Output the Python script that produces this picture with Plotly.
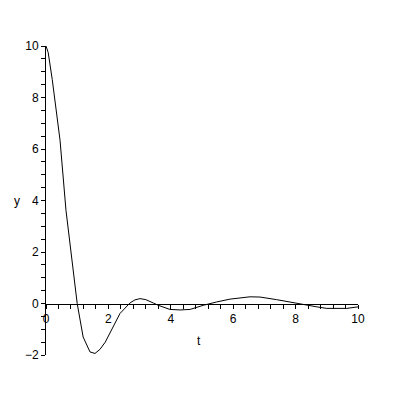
import plotly.graph_objects as go

t_vals = [0, 0.07, 0.2, 0.45, 0.64, 0.8, 1.0, 1.19, 1.41, 1.57, 1.73, 1.9, 2.15, 2.37,
          2.69, 2.85, 3.01, 3.2, 3.44, 3.6, 3.97, 4.3, 4.62, 5.04, 5.47, 5.9, 6.54,
          6.86, 7.39, 7.87, 8.14, 8.68, 9.0, 9.64, 10.0]
y_vals = [10, 9.75, 8.7, 6.34, 3.62, 2.0, 0.0, -1.30, -1.88, -1.94, -1.78, -1.5, -0.91, -0.39,
          0.02, 0.14, 0.19, 0.15, 0.02, -0.07, -0.23, -0.25, -0.23, -0.07, 0.06, 0.17, 0.26,
          0.25, 0.15, 0.04, -0.03, -0.13, -0.19, -0.19, -0.13]

x_range = [0, 10]
y_range = [-2, 10]
x_label = "t"
y_label = "y"

fig = go.Figure()
fig.add_trace(go.Scatter(x=t_vals, y=y_vals, mode="lines",
                         line=dict(color="black", width=1), showlegend=False,
                         hoverinfo="skip"))

font = dict(family="Liberation Sans, Arial, sans-serif", size=12, color="black")
zero_pos = (0 - y_range[0]) / (y_range[1] - y_range[0])

# page body has an 8px margin; plot area should span page px 46..358 x 46..355
ML, MT = 38, 38
PW, PH = 312, 309
MR = 400 - ML - PW
MB = 400 - MT - PH

fig.update_layout(
    width=400, height=400,
    margin=dict(l=ML, r=MR, t=MT, b=MB),
    paper_bgcolor="white", plot_bgcolor="white",
    font=font,
    xaxis=dict(range=x_range, anchor="free", position=zero_pos,
               showgrid=False, zeroline=False, showline=True, linecolor="black",
               linewidth=1, ticks="outside", ticklen=4, tickcolor="black",
               tick0=0, dtick=2, tickfont=font,
               minor=dict(dtick=0.4, ticks="outside", ticklen=4, tickcolor="black",
                          showgrid=False)),
    yaxis=dict(range=y_range, domain=[0, 1],
               showgrid=False, zeroline=False, showline=True, linecolor="black",
               linewidth=1, ticks="outside", ticklen=4, tickcolor="black",
               tick0=0, dtick=2, tickfont=font,
               minor=dict(dtick=0.5, ticks="outside", ticklen=4, tickcolor="black",
                          showgrid=False)),
    annotations=[
        dict(text=x_label, x=(199 - 46) / PW, y=(355 - 341) / PH,
             xref="paper", yref="paper", showarrow=False, font=font,
             xanchor="center", yanchor="middle"),
        dict(text=y_label, x=(17 - 46) / PW, y=4, xref="paper", yref="y",
             showarrow=False, font=font, xanchor="center", yanchor="middle"),
    ],
)

fig.write_html("out.html")
